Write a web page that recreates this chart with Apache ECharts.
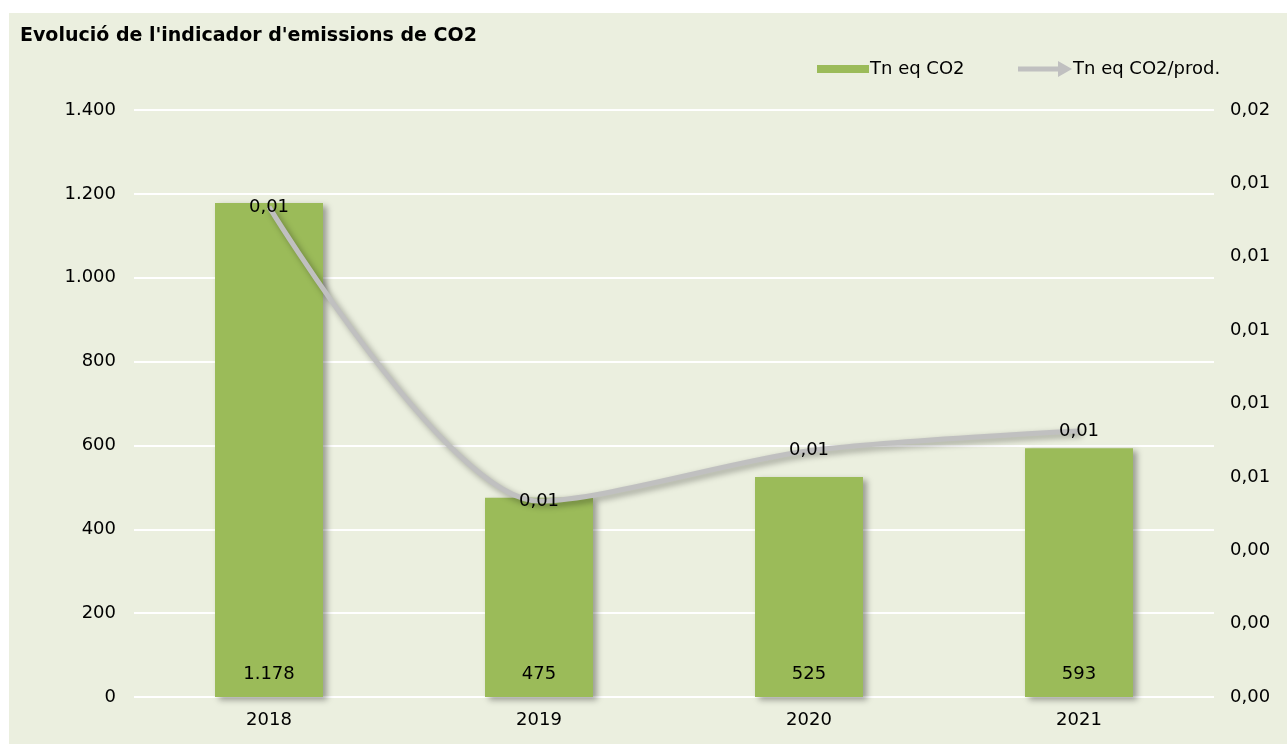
<!DOCTYPE html>
<html>
<head>
<meta charset="utf-8">
<script src="https://cdn.jsdelivr.net/npm/echarts@6/dist/echarts.min.js"></script>
<style>
  html, body { margin: 0; padding: 0; background: #fff; }
  #chart { position: absolute; left: 9px; top: 13px; width: 1278px; height: 731px; }
</style>
</head>
<body>
<div id="chart"></div>
<script>
const years = ['2018', '2019', '2020', '2021']
const emissions = [1178, 475, 525, 593]
const perProduct = [0.01336, 0.00534, 0.00671, 0.00725]
const leftTicks = { min: 0, max: 1400, interval: 200 }
const rightTicks = { min: 0, max: 0.016, interval: 0.002 }

const FONT = '"DejaVu Sans", Verdana, sans-serif'
const thousands = v => String(Math.round(v)).replace(/\B(?=(\d{3})+(?!\d))/g, '.')
const twoDec = v => v.toFixed(2).replace('.', ',')

const chart = echarts.init(document.getElementById('chart'))

chart.setOption({
  backgroundColor: '#EBEFDF',
  textStyle: { fontFamily: FONT },
  title: {
    text: "Evolució de l'indicador d'emissions de CO2",
    left: 6,
    top: 9,
    textStyle: { fontSize: 19, fontWeight: 'bold', color: '#000', fontFamily: FONT }
  },
  legend: [
    {
      data: ['Tn eq CO2'],
      left: 803,
      top: 42,
      itemWidth: 52,
      itemHeight: 8,
      icon: 'rect',
      textStyle: { fontSize: 18, color: '#000', padding: [0, 0, 0, -4] }
    },
    {
      data: [{ name: 'Tn eq CO2/prod.', icon: 'path://M0,5.5 L40,5.5 L40,0 L54,8 L40,16 L40,10.5 L0,10.5 Z' }],
      left: 1004,
      top: 42,
      itemWidth: 54,
      itemHeight: 16,
      itemStyle: { color: '#C0C0C0' },
      textStyle: { fontSize: 18, color: '#000', padding: [0, 0, 0, -4] }
    }
  ],
  grid: { left: 125, right: 73, top: 97, bottom: 47 },
  xAxis: {
    type: 'category',
    data: years,
    axisLine: { show: false },
    axisTick: { show: false },
    axisLabel: { fontSize: 18, color: '#000', margin: 14 }
  },
  yAxis: [
    {
      type: 'value',
      ...leftTicks,
      axisLine: { show: false },
      axisTick: { show: false },
      splitLine: { lineStyle: { color: '#FFFFFF', width: 2 } },
      axisLabel: { fontSize: 18, color: '#000', margin: 18, formatter: thousands }
    },
    {
      type: 'value',
      ...rightTicks,
      axisLine: { show: false },
      axisTick: { show: false },
      splitLine: { show: false },
      axisLabel: { fontSize: 18, color: '#000', margin: 16, formatter: twoDec }
    }
  ],
  series: [
    {
      name: 'Tn eq CO2',
      type: 'bar',
      data: emissions,
      barWidth: '40%',
      itemStyle: {
        color: '#9BBB59',
        shadowColor: 'rgba(0,0,0,0.35)',
        shadowBlur: 6,
        shadowOffsetX: 4,
        shadowOffsetY: 3
      },
      label: {
        show: true,
        position: 'insideBottom',
        distance: 14,
        fontSize: 18,
        color: '#000',
        formatter: p => thousands(p.value)
      }
    },
    {
      name: 'Tn eq CO2/prod.',
      type: 'line',
      yAxisIndex: 1,
      data: perProduct,
      smooth: 0.28,
      symbol: 'circle',
      symbolSize: 2,
      showSymbol: true,
      z: 3,
      lineStyle: {
        color: '#C0C0C0',
        width: 5,
        shadowColor: 'rgba(0,0,0,0.35)',
        shadowBlur: 6,
        shadowOffsetX: 3,
        shadowOffsetY: 3
      },
      itemStyle: { color: 'rgba(192,192,192,0)' },
      label: {
        show: true,
        position: 'inside',
        offset: [0, -2],
        fontSize: 18,
        color: '#000',
        formatter: p => twoDec(p.value)
      },
      labelLayout: { hideOverlap: false }
    }
  ]
})
</script>
</body>
</html>
